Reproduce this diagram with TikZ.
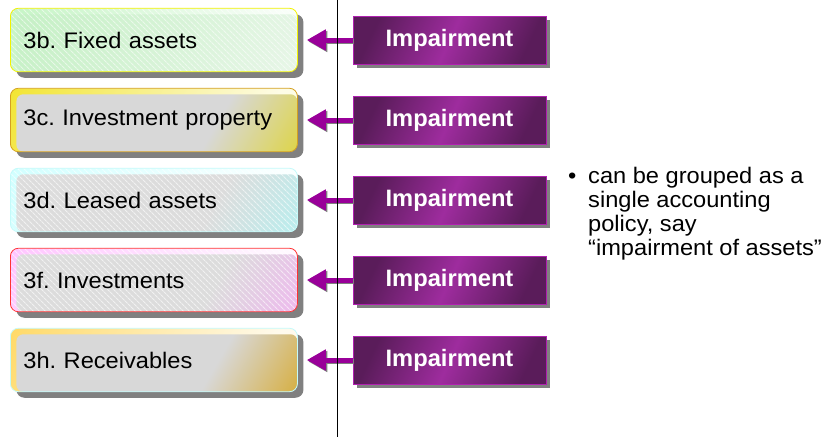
\documentclass[tikz,border=0pt]{standalone}
\usepackage{fontspec}
\setmainfont{Liberation Sans}[FakeStretch=1.05]
\newfontfamily\impfont{Liberation Sans}
\usetikzlibrary{shadows,arrows.meta,patterns.meta}
\frenchspacing
\definecolor{shadowgray}{HTML}{808080}
\definecolor{arrowpurple}{HTML}{990099}
\definecolor{pdark}{HTML}{5A1C5A}
\definecolor{plight}{HTML}{9E2C9E}
\definecolor{pborder}{HTML}{B020B0}
% box colours
\definecolor{gOut}{HTML}{C4F4C4}\definecolor{gBrd}{HTML}{F2F200}\definecolor{gIn}{HTML}{C4F0C4}\definecolor{gCor}{HTML}{E8F6E8}
\definecolor{yOut}{HTML}{F2E430}\definecolor{yBrd}{HTML}{D4A020}\definecolor{yIn}{HTML}{D8D8D8}\definecolor{yCor}{HTML}{DED436}
\definecolor{cOut}{HTML}{D0FFFF}\definecolor{cBrd}{HTML}{C4FAFA}\definecolor{cIn}{HTML}{DCDCDC}\definecolor{cCor}{HTML}{B4F0F0}
\definecolor{pOut}{HTML}{FFC4FF}\definecolor{pBrd}{HTML}{FF3333}\definecolor{pIn}{HTML}{DCDCDC}\definecolor{pCor}{HTML}{F0B4F0}
\definecolor{oOut}{HTML}{FFD966}\definecolor{oBrd}{HTML}{C4FAFA}\definecolor{oIn}{HTML}{D8D8D8}\definecolor{oCor}{HTML}{D6AA30}
\colorlet{fadeA}{white}\colorlet{fadeB}{white}\colorlet{outA}{white}
\pgfdeclarehorizontalshading[fadeA,fadeB]{cornerfade}{100bp}{color(0bp)=(fadeA); color(57bp)=(fadeA); color(69bp)=(fadeB); color(100bp)=(fadeB)}
\pgfdeclarehorizontalshading[fadeA,fadeB]{linfade}{100bp}{color(0bp)=(fadeA); color(33bp)=(fadeA); color(68bp)=(fadeB); color(100bp)=(fadeB)}
\pgfdeclarehorizontalshading[outA]{outfade}{100bp}{color(0bp)=(outA); color(32bp)=(outA); color(62bp)=(outA!12); color(100bp)=(outA!12)}
\begin{document}
\begin{tikzpicture}[x=1pt,y=-1pt,
  lbox/.style n args={6}{rectangle, rounded corners=8pt, draw=#2, line width=0.8pt,
    minimum width=287pt, minimum height=63.5pt, anchor=west,
    text width=261pt, align=left, inner xsep=13pt, inner ysep=0pt,
    font=\fontsize{22.5}{27}\selectfont,
    drop shadow={shadow xshift=6pt,shadow yshift=-6pt,fill=shadowgray,opacity=1},
    path picture={
      \colorlet{outA}{#1}\colorlet{fadeA}{#3}\colorlet{fadeB}{#4}
      \shade[sharp corners, shading=outfade, shading angle=-30]
        ([shift={(-200,-200)}]path picture bounding box.center) rectangle ([shift={(200,200)}]path picture bounding box.center);
      \begin{scope}
        \clip[rounded corners=7pt] ([xshift=6pt,yshift=-6pt]path picture bounding box.north west) rectangle (path picture bounding box.south east);
        \shade[sharp corners, shading=#6, shading angle=-30]
          ([shift={(-200,-200)}]path picture bounding box.center) rectangle ([shift={(200,200)}]path picture bounding box.center);
      \end{scope}
      \fill[sharp corners, pattern={Lines[angle=-45,distance=4pt,line width=1.2pt]}, pattern color=white, fill opacity=#5]
        (path picture bounding box.north west) rectangle (path picture bounding box.south east);
    }},
  impbox/.style={rectangle, draw=pborder, line width=0.8pt,
    minimum width=193pt, minimum height=48pt,
    left color=pdark, right color=pdark, middle color=plight, shading angle=65,
    drop shadow={shadow xshift=4pt,shadow yshift=-4pt,fill=shadowgray,opacity=1},
    text=white, font=\impfont\bfseries\fontsize{23.7}{28}\selectfont},
  arr/.style={draw=arrowpurple, line width=5pt, -{Triangle[length=19pt,width=20pt]}, shorten >=9pt},
  arrsh/.style={draw=shadowgray, line width=5pt, -{Triangle[length=19pt,width=20pt]}, shorten >=9pt,
    transform canvas={xshift=1.5pt,yshift=-1.5pt}},
  bodytext/.style={font=\fontsize{22.5}{24}\selectfont, inner sep=0pt, anchor=base west}
]
\fill[white] (0,0) rectangle (828,437);
\useasboundingbox (0,0) rectangle (828,437);

% left boxes
\node[lbox={gOut}{gBrd}{gIn}{gCor}{0.55}{linfade}]  (b3b) at (10,40)  {3b. Fixed assets};
\node[lbox={yOut}{yBrd}{yIn}{yCor}{0}{cornerfade}]  (b3c) at (10,120) {3c. Investment property};
\node[lbox={cOut}{cBrd}{cIn}{cCor}{0.6}{cornerfade}] (b3d) at (10,200) {3d. Leased assets};
\node[lbox={pOut}{pBrd}{pIn}{pCor}{0.6}{cornerfade}] (b3f) at (10,280) {3f. Investments};
\node[lbox={oOut}{oBrd}{oIn}{oCor}{0}{cornerfade}]  (b3h) at (10,360) {3h. Receivables};

% impairment boxes
\node[impbox] (i1) at (449.5,40)  {Impairment};
\node[impbox] (i2) at (449.5,120) {Impairment};
\node[impbox] (i3) at (449.5,200) {Impairment};
\node[impbox] (i4) at (449.5,280) {Impairment};
\node[impbox] (i5) at (449.5,360) {Impairment};

% arrows
\foreach \i/\b in {i1/b3b,i2/b3c,i3/b3d,i4/b3f,i5/b3h}{
  \draw[arrsh] (\i.west) -- (\b.east);
  \draw[arr] (\i.west) -- (\b.east);
}

% vertical divider
\coordinate (vtop) at (337,0);
\coordinate (vbot) at (337,437);
\draw[black, line width=0.9pt] (vtop) -- (vbot);

% bullet text
\node[bodytext] (bul) at (568,183) {•};
\node[bodytext] (note) at (588,183) {\begin{tabular}[t]{@{}l@{}}can be grouped as a\\ single accounting\\ policy, say\\ “impairment of assets”\end{tabular}};
\end{tikzpicture}
\end{document}
